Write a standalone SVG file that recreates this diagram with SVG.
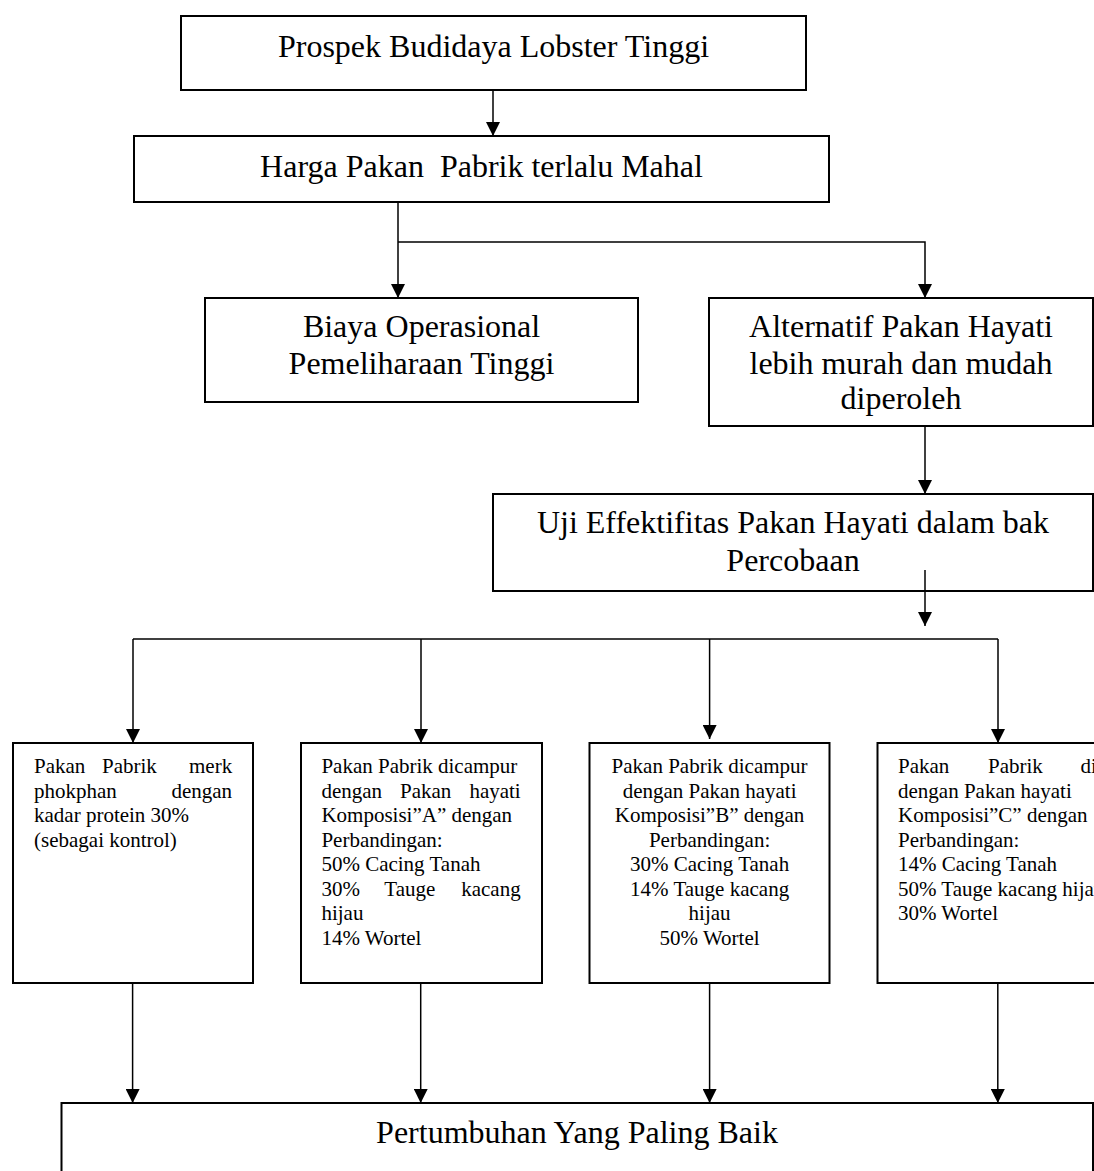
<svg xmlns="http://www.w3.org/2000/svg" width="1094" height="1171" viewBox="0 0 1094 1171">
<style>
.box{fill:#fff;stroke:#000;stroke-width:2}
.ln{fill:none;stroke:#000;stroke-width:1.5}
.big{font-family:"Liberation Serif","Times New Roman",serif;font-size:32px;fill:#000;white-space:pre}
.c{text-anchor:middle}
.sm{font-family:"Liberation Serif","Times New Roman",serif;font-size:21px;fill:#000}
</style>
<defs>
<marker id="ah" markerUnits="userSpaceOnUse" markerWidth="14" markerHeight="14" refX="14" refY="7" orient="auto">
<path d="M0,0 L14,7 L0,14 z" fill="#000"/>
</marker>
</defs>
<rect width="1094" height="1171" fill="#fff"/>

<g id="n1"><rect class="box" x="181" y="16" width="625" height="74"/>
<text class="big c" x="493.5" y="57">Prospek Budidaya Lobster Tinggi</text></g>

<g id="n2"><rect class="box" x="134" y="136" width="695" height="66"/>
<text class="big c" x="481.5" y="177">Harga Pakan  Pabrik terlalu Mahal</text></g>

<g id="n3"><rect class="box" x="205" y="298" width="433" height="104"/>
<text class="big c" x="421.5" y="337">Biaya Operasional</text>
<text class="big c" x="421.5" y="374">Pemeliharaan Tinggi</text></g>

<g id="n4"><rect class="box" x="709" y="298" width="384" height="128"/>
<text class="big c" x="901" y="337">Alternatif Pakan Hayati</text>
<text class="big c" x="901" y="374">lebih murah dan mudah</text>
<text class="big c" x="901" y="409">diperoleh</text></g>

<g id="n5"><rect class="box" x="493" y="494" width="600" height="97"/>
<text class="big c" x="793" y="533">Uji Effektifitas Pakan Hayati dalam bak</text>
<text class="big c" x="793" y="571">Percobaan</text></g>

<g id="n6"><rect class="box" x="13" y="743" width="240" height="240"/>
<text class="sm" y="773"><tspan x="34">Pakan</tspan><tspan x="102">Pabrik</tspan><tspan x="189">merk</tspan></text>
<text class="sm" y="797.5"><tspan x="34">phokphan</tspan><tspan x="171.4">dengan</tspan></text>
<text class="sm" x="34" y="822">kadar protein 30%</text>
<text class="sm" x="34" y="846.5">(sebagai kontrol)</text></g>

<g id="n7"><rect class="box" x="301" y="743" width="241" height="240"/>
<text class="sm" x="321.4" y="773">Pakan Pabrik dicampur</text>
<text class="sm" y="797.5"><tspan x="321.4">dengan</tspan><tspan x="400">Pakan</tspan><tspan x="469.4">hayati</tspan></text>
<text class="sm" x="321.4" y="822">Komposisi”A” dengan</text>
<text class="sm" x="321.4" y="846.5">Perbandingan:</text>
<text class="sm" x="321.4" y="871">50% Cacing Tanah</text>
<text class="sm" y="895.5"><tspan x="321.4">30%</tspan><tspan x="384.3">Tauge</tspan><tspan x="461.2">kacang</tspan></text>
<text class="sm" x="321.4" y="920">hijau</text>
<text class="sm" x="321.4" y="944.5">14% Wortel</text></g>

<g id="n8"><rect class="box" x="589.5" y="743" width="240" height="240"/>
<text class="sm c" x="709.6" y="773">Pakan Pabrik dicampur</text>
<text class="sm c" x="709.6" y="797.5">dengan Pakan hayati</text>
<text class="sm c" x="709.6" y="822">Komposisi”B” dengan</text>
<text class="sm c" x="709.6" y="846.5">Perbandingan:</text>
<text class="sm c" x="709.6" y="871">30% Cacing Tanah</text>
<text class="sm c" x="709.6" y="895.5">14% Tauge kacang</text>
<text class="sm c" x="709.6" y="920">hijau</text>
<text class="sm c" x="709.6" y="944.5">50% Wortel</text></g>

<g id="n9"><rect class="box" x="877.5" y="743" width="240" height="240"/>
<text class="sm" y="773"><tspan x="898">Pakan</tspan><tspan x="988">Pabrik</tspan><tspan x="1080.6">dicampur</tspan></text>
<text class="sm" x="898" y="797.5">dengan Pakan hayati</text>
<text class="sm" x="898" y="822">Komposisi”C” dengan</text>
<text class="sm" x="898" y="846.5">Perbandingan:</text>
<text class="sm" x="898" y="871">14% Cacing Tanah</text>
<text class="sm" x="898" y="895.5">50% Tauge kacang hijau</text>
<text class="sm" x="898" y="920">30% Wortel</text></g>

<g id="n10"><rect class="box" x="61.5" y="1103" width="1031.5" height="80"/>
<text class="big c" x="577" y="1143">Pertumbuhan Yang Paling Baik</text></g>

<g id="connectors">
<path class="ln" d="M493,90 V136" marker-end="url(#ah)"/>
<path class="ln" d="M398,202 V298" marker-end="url(#ah)"/>
<path class="ln" d="M398,242 H925 V298" marker-end="url(#ah)"/>
<path class="ln" d="M925,426 V494" marker-end="url(#ah)"/>
<path class="ln" d="M925,570 V626" marker-end="url(#ah)"/>
<path class="ln" d="M133,639 H998"/>
<path class="ln" d="M133,639 V743" marker-end="url(#ah)"/>
<path class="ln" d="M421,639 V743" marker-end="url(#ah)"/>
<path class="ln" d="M709.6,639 V739" marker-end="url(#ah)"/>
<path class="ln" d="M998,639 V743" marker-end="url(#ah)"/>
<path class="ln" d="M132.6,983 V1103" marker-end="url(#ah)"/>
<path class="ln" d="M420.7,983 V1103" marker-end="url(#ah)"/>
<path class="ln" d="M709.6,983 V1103" marker-end="url(#ah)"/>
<path class="ln" d="M997.8,983 V1103" marker-end="url(#ah)"/>
</g>
</svg>
